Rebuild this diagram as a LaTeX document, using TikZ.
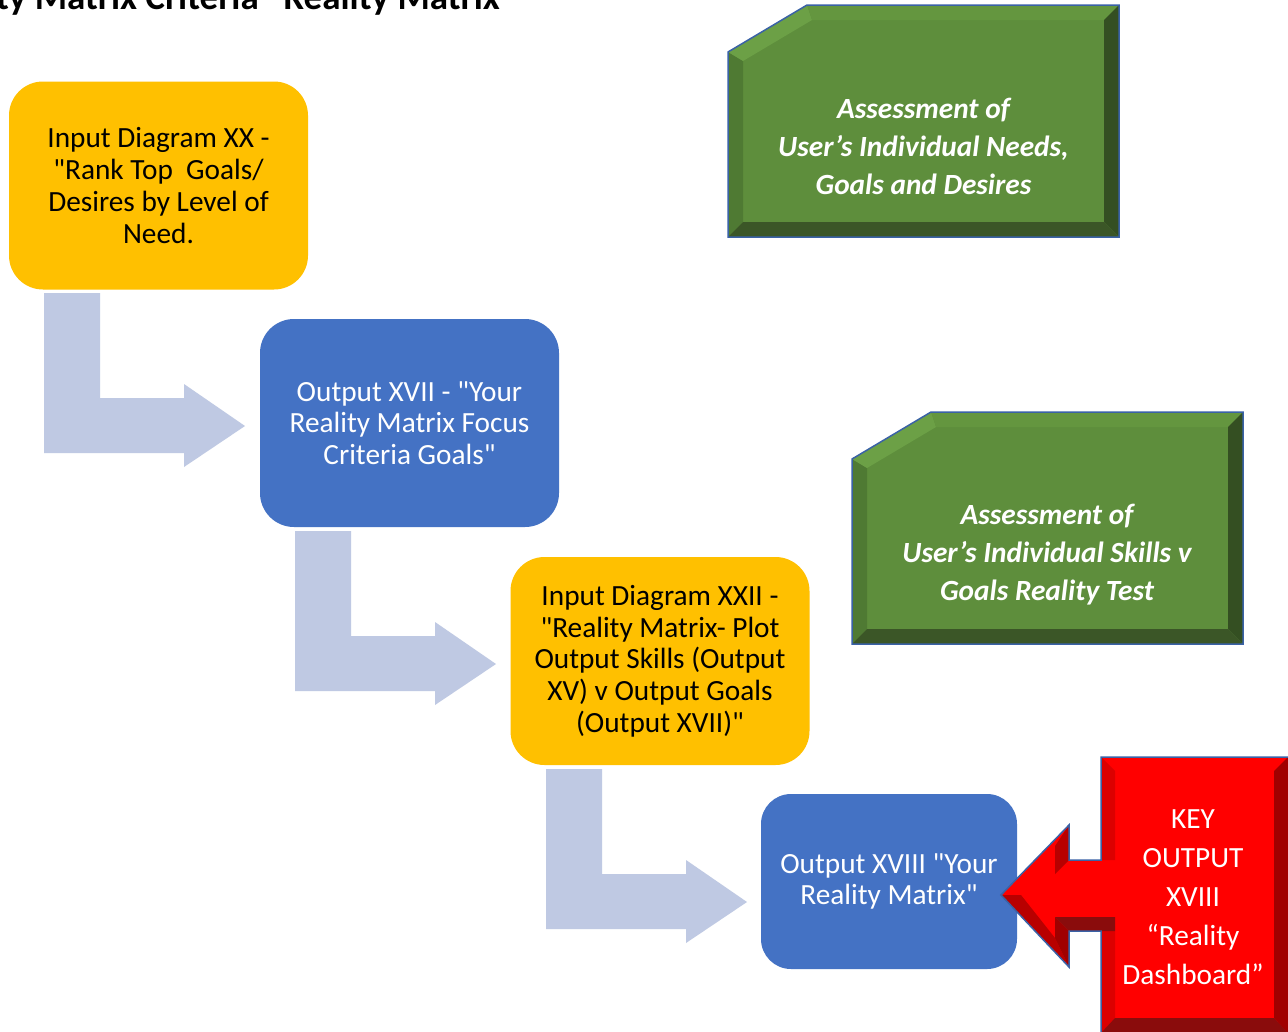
\documentclass[tikz,border=0pt]{standalone}
\usepackage{fontspec}
\setmainfont{Carlito}[Ligatures=TeXOff]
\usetikzlibrary{calc}

\definecolor{amber}{HTML}{FFC000}
\definecolor{steel}{HTML}{4472C4}
\definecolor{pale}{HTML}{BFC9E3}
\definecolor{leaf}{HTML}{5E8E3C}
\definecolor{leafleft}{HTML}{4F7A33}
\definecolor{leaftop}{HTML}{64963F}
\definecolor{leafsnip}{HTML}{6CA046}
\definecolor{leafright}{HTML}{344F22}
\definecolor{leafbottom}{HTML}{3B5627}
\definecolor{rim}{HTML}{3A62A6}
\definecolor{alarm}{HTML}{FF0000}
\definecolor{alarmleft}{HTML}{DC0000}
\definecolor{alarmmid}{HTML}{B80000}
\definecolor{alarmright}{HTML}{A00000}
\definecolor{alarmbottom}{HTML}{8A0C0C}

\tikzset{
  stage/.style={rectangle, rounded corners=34pt, inner sep=0pt, align=center,
    minimum width=299pt, minimum height=208pt,
    font=\fontsize{29.3}{31.7}\selectfont},
  inputbox/.style={stage, fill=amber, text=black},
  outputbox/.style={stage, fill=steel, text=white},
  benttrack/.style={fill=pale},
  notetext/.style={inner sep=0pt, align=center, text=white,
    font=\fontsize{29.3}{38}\selectfont\bfseries\itshape},
  keytext/.style={inner sep=0pt, align=center, text=white,
    font=\fontsize{29.3}{39}\selectfont},
}

% L-shaped block arrow, drawn at an offset
\newcommand\benttrackat[2]{%
  \fill[benttrack, shift={(#1,#2)}]
    (44,293) -- (100,293) -- (100,398) -- (184,398) -- (184,384)
    -- (245,426) -- (184,467) -- (184,453) -- (44,453) -- cycle;}

% bevelled panel with a snipped top-left corner
\newcommand\snippanel[2]{%
  \begin{scope}[shift={(#1,#2)}]
    \fill[leaf] (0,47) -- (79,0) -- (391,0) -- (391,232) -- (0,232) -- cycle;
    \fill[leafleft] (0,47) -- (15,56) -- (15,217) -- (0,232) -- cycle;
    \fill[leafsnip] (0,47) -- (79,0) -- (84,15) -- (15,56) -- cycle;
    \fill[leaftop] (79,0) -- (391,0) -- (376,15) -- (84,15) -- cycle;
    \fill[leafright] (391,0) -- (391,232) -- (376,217) -- (376,15) -- cycle;
    \fill[leafbottom] (0,232) -- (391,232) -- (376,217) -- (15,217) -- cycle;
    \draw[rim, line width=1.5pt, line join=miter]
      (0,47) -- (79,0) -- (391,0) -- (391,232) -- (0,232) -- cycle;
  \end{scope}}

\begin{document}
\begin{tikzpicture}[x=1pt, y=-1pt]
\useasboundingbox (0,0) rectangle (1288,1031);
\clip (0,0) rectangle (1288,1031);
\fill[white] (0,0) rectangle (1288,1031);

% heading, running off the top-left edge
\node[anchor=base east, inner sep=0pt,
      font=\fontsize{37}{42}\selectfont\bfseries] (title) at (500,9)
  {ty Matrix Criteria "Reality Matrix};

% bent block arrows between the stages
\benttrackat{0}{0}
\benttrackat{251}{238}
\benttrackat{502}{476}

% stages
\node[inputbox] (in1) at (158.5,185.5)
  {Input Diagram XX -\\"Rank Top\ \ Goals/\\Desires by Level of\\Need.};
\node[outputbox] (out1) at (409.5,423)
  {Output XVII - "Your\\Reality Matrix Focus\\Criteria Goals"};
\node[inputbox] (in2) at (660,661)
  {Input Diagram XXII -\\"Reality Matrix- Plot\\Output Skills (Output\\XV) v Output Goals\\(Output XVII)"};
\node[outputbox, minimum width=256pt, minimum height=175pt, rounded corners=30pt]
  (out2) at (889,881.5)
  {Output XVIII "Your\\Reality Matrix"};

% assessment panels
\snippanel{728}{5}
\node[notetext] (note1) at (923.5,146.5)
  {Assessment of\\User’s Individual Needs,\\Goals and Desires};
\snippanel{852}{412}
\node[notetext] (note2) at (1047,554.5)
  {Assessment of\\User’s Individual Skills v\\Goals Reality Test};

% key output callout pointing at the last stage
\fill[alarm] (1101,757) -- (1292,757) -- (1292,1035) -- (1101,1035) -- (1101,931)
  -- (1069,931) -- (1069,967) -- (1001,895) -- (1069,825) -- (1069,860)
  -- (1101,860) -- cycle;
\fill[alarmleft] (1101,757) -- (1115,771) -- (1115,860) -- (1101,860) -- cycle;
\fill[alarmleft] (1101,931) -- (1115,931) -- (1115,1018) -- (1101,1033) -- cycle;
\fill[alarmright] (1288,757) -- (1288,1033) -- (1274,1018) -- (1274,771) -- cycle;
\fill[alarmbottom] (1101,1033) -- (1288,1033) -- (1274,1018) -- (1115,1018) -- cycle;
\fill[alarmmid] (1001,895) -- (1069,967) -- (1055,938) -- (1021,895) -- cycle;
\fill[alarmright] (1069,967) -- (1069,931) -- (1055,917) -- (1055,938) -- cycle;
\fill[alarmbottom] (1055,917) -- (1069,931) -- (1115,931) -- (1115,917) -- cycle;
\fill[alarmmid] (1069,825) -- (1069,860) -- (1055,874) -- (1055,846) -- cycle;
\draw[rim, line width=1.5pt, line join=miter]
  (1101,757) -- (1292,757) -- (1292,1035) -- (1101,1035) -- (1101,931)
  -- (1069,931) -- (1069,967) -- (1001,895) -- (1069,825) -- (1069,860)
  -- (1101,860) -- cycle;
\node[keytext] (key) at (1193,897)
  {KEY\\OUTPUT\\XVIII\\“Reality\\Dashboard”};
\end{tikzpicture}
\end{document}
